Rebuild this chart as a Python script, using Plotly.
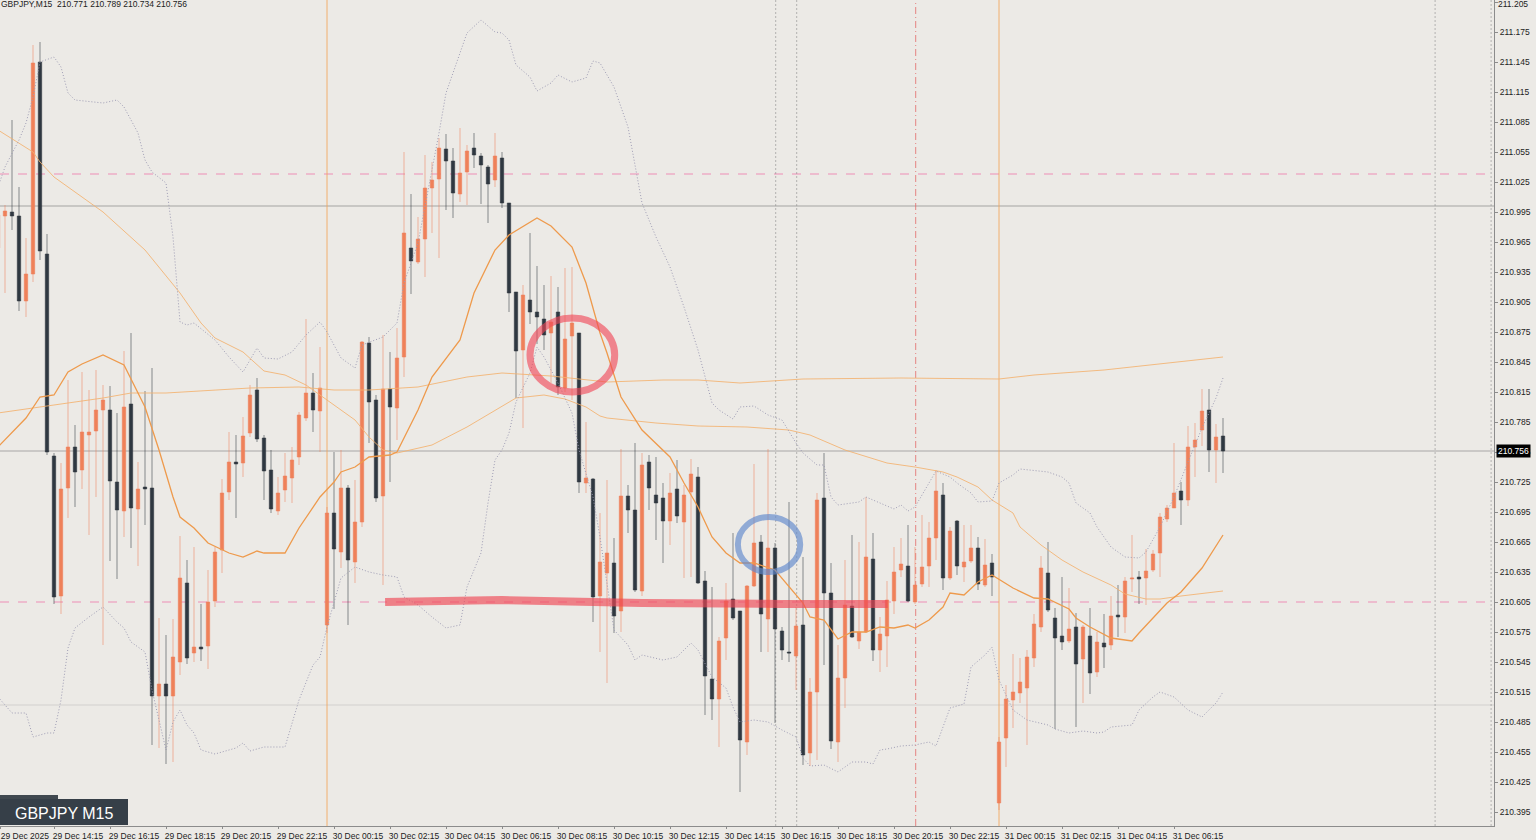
import plotly.graph_objects as go

# ---------------- data (GBPJPY M15, 29 Dec 12:15 .. 31 Dec 08:00) ----------------
bar_index = list(range(-47, 129))   # 0 = 30 Dec 00:00, 15-minute bars

opens = [210.959, 210.991, 210.995, 210.991, 210.906, 210.933, 211.145, 210.953, 210.751, 210.611,
         210.719, 210.760, 210.737, 210.772, 210.776, 210.797, 210.797, 210.725, 210.696, 210.803,
         210.698, 210.720, 210.719, 210.511, 210.523, 210.511, 210.545, 210.624, 210.554, 210.560,
         210.561, 210.606, 210.657, 210.715, 210.745, 210.744, 210.774, 210.817, 210.769, 210.737,
         210.696, 210.717, 210.729, 210.750, 210.789, 210.814, 210.796,
         210.582, 210.694, 210.655, 210.719, 210.645, 210.685, 210.864, 210.807, 210.711, 210.818,
         210.799, 210.850, 210.959, 210.945, 210.968, 211.019, 211.028, 211.058, 211.046, 211.013,
         211.035, 211.059, 211.051, 211.040, 211.027, 211.049, 211.004, 210.915, 210.857, 210.907,
         210.895, 210.888, 210.874, 210.895, 210.819, 210.871, 210.874, 210.724, 210.728, 210.611,
         210.634, 210.644, 210.596, 210.711, 210.697, 210.616, 210.745, 210.712, 210.709, 210.686,
         210.718, 210.685, 210.715, 210.730, 210.626, 210.528, 210.508, 210.569, 210.608, 210.596,
         210.465, 210.621, 210.665, 210.588, 210.659, 210.576, 210.555, 210.551, 210.582, 210.454,
         210.515, 210.709, 210.614, 210.465, 210.529, 210.601, 210.566, 210.575, 210.648, 210.557,
         210.571, 210.606, 210.637, 210.641, 210.605, 210.623, 210.641, 210.669, 210.712, 210.629,
         210.686, 210.640, 210.646, 210.659, 210.622, 210.644,
         210.404, 210.469, 210.507, 210.514, 210.519, 210.549, 210.580, 210.634, 210.589, 210.571,
         210.566, 210.580, 210.548, 210.571, 210.535, 210.564, 210.562, 210.592, 210.590, 210.628,
         210.630, 210.629, 210.637, 210.654, 210.688, 210.699, 210.716, 210.707, 210.760, 210.777,
         210.797, 210.757, 210.771]
highs = [211.000, 211.002, 211.087, 211.020, 210.969, 211.162, 211.165, 210.973, 210.754, 210.744,
         210.827, 210.782, 210.835, 210.817, 210.837, 210.822, 210.821, 210.794, 210.856, 210.874,
         210.745, 210.816, 210.839, 210.589, 210.572, 210.588, 210.671, 210.647, 210.660, 210.603,
         210.637, 210.660, 210.728, 210.775, 210.772, 210.790, 210.822, 210.829, 210.772, 210.757,
         210.730, 210.754, 210.760, 210.795, 210.888, 210.834, 210.860,
         210.700, 210.755, 210.757, 210.722, 210.727, 210.866, 210.870, 210.812, 210.872, 210.855,
         210.879, 211.055, 211.013, 210.990, 211.052, 211.045, 211.069, 211.073, 211.059, 211.079,
         211.062, 211.074, 211.054, 211.042, 211.074, 211.055, 211.004, 210.915, 210.922, 210.974,
         210.941, 210.922, 210.931, 210.920, 210.939, 210.940, 210.874, 210.785, 210.729, 210.694,
         210.727, 210.669, 210.758, 210.722, 210.764, 210.754, 210.752, 210.750, 210.724, 210.734,
         210.747, 210.722, 210.748, 210.740, 210.636, 210.620, 210.570, 210.624, 210.674, 210.596,
         210.622, 210.743, 210.672, 210.758, 210.664, 210.580, 210.705, 210.600, 210.650, 210.529,
         210.714, 210.754, 210.644, 210.562, 210.647, 210.672, 210.665, 210.710, 210.674, 210.590,
         210.626, 210.660, 210.669, 210.682, 210.660, 210.692, 210.685, 210.737, 210.724, 210.680,
         210.687, 210.682, 210.682, 210.670, 210.668, 210.653,
         210.470, 210.522, 210.553, 210.549, 210.557, 210.593, 210.651, 210.665, 210.599, 210.630,
         210.619, 210.594, 210.582, 210.599, 210.575, 210.593, 210.611, 210.622, 210.630, 210.672,
         210.636, 210.658, 210.657, 210.694, 210.702, 210.764, 210.725, 210.781, 210.784, 210.818,
         210.818, 210.783, 210.789]
lows = [210.937, 210.914, 210.977, 210.896, 210.890, 210.925, 210.947, 210.752, 210.603, 210.593,
        210.689, 210.700, 210.718, 210.672, 210.710, 210.562, 210.646, 210.628, 210.670, 210.659,
        210.641, 210.682, 210.462, 210.459, 210.443, 210.445, 210.532, 210.543, 210.545, 210.546,
        210.538, 210.600, 210.634, 210.707, 210.689, 210.730, 210.770, 210.765, 210.707, 210.694,
        210.692, 210.705, 210.704, 210.742, 210.786, 210.775, 210.755,
        210.574, 210.598, 210.639, 210.582, 210.624, 210.680, 210.764, 210.705, 210.622, 210.725,
        210.767, 210.830, 210.913, 210.943, 210.930, 210.974, 210.949, 210.997, 210.989, 211.005,
        211.002, 211.039, 211.003, 210.984, 211.020, 210.999, 210.895, 210.809, 210.779, 210.883,
        210.863, 210.857, 210.824, 210.812, 210.815, 210.807, 210.714, 210.714, 210.585, 210.555,
        210.524, 210.574, 210.575, 210.674, 210.615, 210.611, 210.697, 210.667, 210.644, 210.662,
        210.684, 210.629, 210.630, 210.623, 210.492, 210.487, 210.460, 210.547, 210.587, 210.415,
        210.452, 210.620, 210.555, 210.555, 210.484, 210.547, 210.545, 210.517, 210.442, 210.441,
        210.447, 210.542, 210.458, 210.445, 210.499, 210.569, 210.558, 210.574, 210.546, 210.535,
        210.540, 210.593, 210.630, 210.605, 210.603, 210.620, 210.620, 210.647, 210.617, 210.627,
        210.632, 210.625, 210.644, 210.617, 210.620, 210.611,
        210.397, 210.440, 210.479, 210.504, 210.462, 210.540, 210.575, 210.595, 210.478, 210.557,
        210.564, 210.480, 210.504, 210.513, 210.530, 210.539, 210.557, 210.570, 210.574, 210.615,
        210.603, 210.602, 210.635, 210.630, 210.685, 210.699, 210.682, 210.701, 210.730, 210.761,
        210.735, 210.724, 210.734]
closes = [210.992, 210.996, 210.991, 210.906, 210.933, 211.144, 210.956, 210.755, 210.610, 210.718,
          210.760, 210.735, 210.775, 210.775, 210.797, 210.807, 210.726, 210.697, 210.800, 210.699,
          210.718, 210.718, 210.511, 210.523, 210.511, 210.550, 210.629, 210.549, 210.560, 210.558,
          210.605, 210.655, 210.714, 210.745, 210.743, 210.771, 210.812, 210.768, 210.736, 210.698,
          210.714, 210.731, 210.747, 210.792, 210.814, 210.797, 210.819,
          210.694, 210.658, 210.719, 210.647, 210.685, 210.865, 210.805, 210.709, 210.818, 210.800,
          210.849, 210.974, 210.946, 210.968, 211.019, 211.027, 211.059, 211.046, 211.014, 211.034,
          211.056, 211.052, 211.042, 211.023, 211.051, 211.004, 210.914, 210.856, 210.912, 210.895,
          210.890, 210.872, 210.885, 210.820, 210.868, 210.884, 210.725, 210.729, 210.610, 210.645,
          210.654, 210.591, 210.711, 210.697, 210.617, 210.742, 210.719, 210.704, 210.686, 210.714,
          210.691, 210.712, 210.733, 210.624, 210.531, 210.508, 210.566, 210.606, 210.589, 210.467,
          210.621, 210.664, 210.593, 210.659, 210.578, 210.557, 210.554, 210.581, 210.452, 210.515,
          210.707, 210.614, 210.466, 210.529, 210.602, 210.570, 210.575, 210.650, 210.557, 210.573,
          210.607, 210.635, 210.643, 210.606, 210.622, 210.640, 210.669, 210.716, 210.629, 210.676,
          210.641, 210.645, 210.659, 210.623, 210.642, 210.630,
          210.465, 210.508, 210.515, 210.525, 210.550, 210.583, 210.639, 210.597, 210.569, 210.565,
          210.578, 210.543, 210.580, 210.534, 210.565, 210.560, 210.591, 210.590, 210.626, 210.629,
          210.628, 210.636, 210.653, 210.690, 210.699, 210.714, 210.707, 210.760, 210.767, 210.796,
          210.757, 210.770, 210.756]

# Bollinger middle line (orange)
bb_mid_bars = [-47, -43, -41, -39, -37, -35, -32, -29, -26, -24, -22, -21, -19, -17, -14, -12, -10, -9, -6, -4,
               -1, 1, 2, 4, 6, 9, 10, 13, 15, 19, 21, 24, 26, 30, 32, 35, 37, 39, 40, 42, 45, 49, 51, 53, 55,
               57, 59, 61, 64, 66, 68, 69, 71, 73, 75, 77, 79, 81, 83, 84, 86, 88, 89, 91, 93, 95, 98, 101,
               103, 106, 107, 109, 112, 115, 116, 120, 122, 125, 128]
bb_mid = [210.760, 210.789, 210.810, 210.812, 210.835, 210.843, 210.852, 210.842, 210.800, 210.757, 210.710,
          210.690, 210.679, 210.664, 210.654, 210.650, 210.656, 210.654, 210.654, 210.679, 210.710, 210.725,
          210.735, 210.740, 210.750, 210.752, 210.755, 210.797, 210.830, 210.867, 210.914, 210.957, 210.972,
          210.989, 210.981, 210.960, 210.924, 210.874, 210.854, 210.810, 210.777, 210.750, 210.724, 210.700,
          210.670, 210.654, 210.644, 210.644, 210.637, 210.620, 210.604, 210.590, 210.587, 210.568, 210.575,
          210.575, 210.580, 210.579, 210.582, 210.579, 210.587, 210.600, 210.614, 210.612, 210.625, 210.632,
          210.619, 210.609, 210.608, 210.598, 210.589, 210.580, 210.569, 210.566, 210.574, 210.604, 210.615,
          210.639, 210.672]

# Bollinger upper band (dotted)
bb_up_bars = [-47, -46, -44, -43, -42, -41, -39, -38, -37, -36, -32, -30, -29, -27, -26, -25, -23, -22, -21,
              -20, -19, -16, -14, -12, -10, -9, -7, -5, -3, -1, 0, 2, 4, 5, 8, 10, 11, 13, 16, 17, 18, 20, 22,
              24, 25, 26, 27, 29, 30, 32, 33, 35, 37, 38, 39, 41, 43, 45, 47, 49, 51, 53, 55, 56, 58, 59, 61,
              63, 65, 67, 68, 70, 71, 72, 73, 76, 77, 79, 81, 82, 83, 84, 86, 87, 89, 90, 92, 93, 95, 96, 98,
              99, 103, 105, 106, 107, 109, 110, 112, 114, 116, 117, 119, 121, 123, 125, 127, 128]
bb_up = [211.020, 211.040, 211.067, 211.084, 211.110, 211.145, 211.150, 211.140, 211.114, 211.107, 211.104,
         211.107, 211.100, 211.074, 211.047, 211.035, 211.024, 210.970, 210.885, 210.882, 210.884, 210.867,
         210.850, 210.835, 210.859, 210.849, 210.848, 210.855, 210.872, 210.885, 210.875, 210.849, 210.839,
         210.862, 210.870, 210.884, 210.924, 210.964, 211.074, 211.114, 211.134, 211.174, 211.187, 211.175,
         211.174, 211.167, 211.142, 211.130, 211.116, 211.124, 211.132, 211.125, 211.129, 211.146, 211.144,
         211.120, 211.080, 211.004, 210.970, 210.940, 210.900, 210.857, 210.804, 210.797, 210.788, 210.800,
         210.801, 210.792, 210.787, 210.764, 210.754, 210.742, 210.742, 210.710, 210.702, 210.705, 210.710,
         210.704, 210.698, 210.702, 210.696, 210.700, 210.724, 210.736, 210.730, 210.724, 210.714, 210.705,
         210.706, 210.724, 210.732, 210.738, 210.735, 210.730, 210.724, 210.704, 210.694, 210.680, 210.660,
         210.650, 210.649, 210.655, 210.680, 210.710, 210.745, 210.779, 210.809, 210.829]

# Bollinger lower band (dotted)
bb_lo_bars = [-47, -45, -43, -42, -40, -39, -38, -37, -36, -34, -32, -30, -29, -28, -26, -25, -24, -23, -22,
              -21, -20, -19, -18, -16, -13, -12, -11, -9, -6, -4, -2, -1, 0, 2, 4, 6, 8, 10, 11, 13, 15, 17,
              19, 20, 22, 23, 24, 25, 26, 27, 29, 30, 31, 33, 35, 36, 38, 39, 41, 43, 44, 45, 48, 50, 52, 53,
              55, 57, 58, 59, 61, 63, 65, 67, 68, 69, 71, 73, 75, 77, 78, 79, 80, 82, 84, 86, 87, 89, 91, 92,
              94, 95, 96, 98, 100, 103, 104, 106, 108, 110, 111, 112, 115, 116, 118, 119, 121, 123, 125, 127, 128]
bb_lo = [210.510, 210.494, 210.494, 210.470, 210.474, 210.474, 210.507, 210.559, 210.579, 210.590, 210.600,
         210.585, 210.579, 210.565, 210.555, 210.517, 210.487, 210.457, 210.485, 210.497, 210.482, 210.474,
         210.457, 210.453, 210.459, 210.464, 210.456, 210.460, 210.460, 210.507, 210.542, 210.550, 210.580,
         210.629, 210.640, 210.635, 210.632, 210.630, 210.610, 210.602, 210.590, 210.579, 210.582, 210.620,
         210.654, 210.704, 210.747, 210.757, 210.774, 210.805, 210.834, 210.860, 210.850, 210.824, 210.794,
         210.757, 210.710, 210.670, 210.577, 210.562, 210.547, 210.552, 210.547, 210.550, 210.564, 210.557,
         210.530, 210.519, 210.500, 210.485, 210.487, 210.485, 210.477, 210.470, 210.449, 210.441, 210.442,
         210.435, 210.445, 210.445, 210.443, 210.457, 210.458, 210.461, 210.462, 210.465, 210.461, 210.499,
         210.503, 210.540, 210.552, 210.560, 210.527, 210.497, 210.487, 210.482, 210.478, 210.474, 210.476,
         210.474, 210.475, 210.480, 210.482, 210.497, 210.510, 210.515, 210.510, 210.497, 210.490, 210.504,
         210.515]

# slower moving average (thin, falling from top-left)
ma_slow_bars = [-47, -42, -41, -39, -32, -26, -21, -18, -16, -12, -9, -6, -3, 0, 4, 6, 8, 10, 15, 20, 24, 27,
                31, 34, 37, 39, 40, 47, 53, 60, 66, 69, 74, 80, 84, 88, 90, 93, 95, 98, 99, 102, 105, 108, 112,
                114, 117, 119, 122, 126, 128]
ma_slow = [211.077, 211.055, 211.045, 211.030, 210.995, 210.957, 210.914, 210.884, 210.869, 210.855, 210.836,
           210.832, 210.822, 210.807, 210.787, 210.770, 210.757, 210.754, 210.762, 210.780, 210.797, 210.809,
           210.812, 210.808, 210.800, 210.791, 210.789, 210.784, 210.781, 210.780, 210.777, 210.772, 210.757,
           210.744, 210.740, 210.735, 210.730, 210.720, 210.707, 210.694, 210.680, 210.662, 210.647, 210.635,
           210.622, 210.613, 210.608, 210.608, 210.611, 210.614, 210.616]

# slowest moving average (thin, nearly flat)
ma_flat_bars = [-47, -32, -28, -23, -11, -4, 1, 6, 13, 20, 25, 32, 40, 48, 53, 59, 68, 82, 96, 101, 111, 128]
ma_flat = [210.794, 210.809, 210.814, 210.814, 210.819, 210.820, 210.817, 210.817, 210.820, 210.830, 210.834,
           210.831, 210.825, 210.827, 210.827, 210.824, 210.828, 210.829, 210.828, 210.832, 210.837, 210.850]

# horizontal levels drawn on the chart
level_pink = [211.033, 210.605]
level_gray = [211.001]
level_light = [210.502]
bid_price = 210.756

# x tick labels (15-minute bars)
tick_bars = [-46.6, -39, -31, -23, -15, -7, 1, 9, 17, 25, 33, 41, 49, 57, 65, 73, 81, 89, 97, 105, 113, 121]
tick_labels = ["29 Dec 2025", "29 Dec 14:15", "29 Dec 16:15", "29 Dec 18:15", "29 Dec 20:15",
               "29 Dec 22:15", "30 Dec 00:15", "30 Dec 02:15", "30 Dec 04:15", "30 Dec 06:15",
               "30 Dec 08:15", "30 Dec 10:15", "30 Dec 12:15", "30 Dec 14:15", "30 Dec 16:15",
               "30 Dec 18:15", "30 Dec 20:15", "30 Dec 22:15", "31 Dec 00:15", "31 Dec 02:15",
               "31 Dec 04:15", "31 Dec 06:15"]
price_ticks = [round(210.395 + 0.030 * k, 3) for k in range(28)]
price_labels = [f"{v:.3f}" for v in price_ticks]
top_price_label = price_labels[-1]
axis_labels = price_labels[:-1] + [""]   # top label drawn as an annotation so it stays inside the page

# ---------------- styling ----------------
BG = "#ECEAE6"
FONT = "Liberation Sans, Arial, sans-serif"
X_RANGE = [-46.714, 166.714]
Y_RANGE = [210.381, 211.207]
BAND_DASH = "1px,2px"

fig = go.Figure()

fig.add_trace(go.Candlestick(
    x=bar_index, open=opens, high=highs, low=lows, close=closes,
    increasing=dict(line=dict(color="rgba(238,128,92,0.55)", width=1), fillcolor="#EF8159"),
    decreasing=dict(line=dict(color="rgba(50,56,64,0.55)", width=1), fillcolor="#2F3841"),
    whiskerwidth=0, showlegend=False, hoverinfo="skip", name="GBPJPY"))

fig.add_trace(go.Scatter(x=ma_flat_bars, y=ma_flat, mode="lines",
                         line=dict(color="rgba(243,178,110,0.85)", width=1), hoverinfo="skip", showlegend=False))
fig.add_trace(go.Scatter(x=ma_slow_bars, y=ma_slow, mode="lines",
                         line=dict(color="rgba(243,178,110,0.85)", width=1), hoverinfo="skip", showlegend=False))
fig.add_trace(go.Scatter(x=bb_up_bars, y=bb_up, mode="lines",
                         line=dict(color="#9E9CB4", width=1, dash=BAND_DASH), hoverinfo="skip", showlegend=False))
fig.add_trace(go.Scatter(x=bb_lo_bars, y=bb_lo, mode="lines",
                         line=dict(color="#9E9CB4", width=1, dash=BAND_DASH), hoverinfo="skip", showlegend=False))
fig.add_trace(go.Scatter(x=bb_mid_bars, y=bb_mid, mode="lines",
                         line=dict(color="#EE9A4C", width=1.3), hoverinfo="skip", showlegend=False))

shapes = []
for lv in level_pink:
    shapes.append(dict(type="line", xref="paper", x0=0, x1=1, yref="y", y0=lv, y1=lv,
                       line=dict(color="rgba(240,120,170,0.8)", width=1, dash="dash"), layer="below"))
for lv in level_gray:
    shapes.append(dict(type="line", xref="paper", x0=0, x1=1, yref="y", y0=lv, y1=lv,
                       line=dict(color="rgba(150,150,150,0.55)", width=1.3), layer="below"))
for lv in level_light:
    shapes.append(dict(type="line", xref="paper", x0=0, x1=1, yref="y", y0=lv, y1=lv,
                       line=dict(color="rgba(180,180,180,0.45)", width=1), layer="below"))
shapes.append(dict(type="line", xref="paper", x0=0, x1=1, yref="y", y0=bid_price, y1=bid_price,
                   line=dict(color="rgba(140,140,140,0.7)", width=1.2), layer="below"))

# vertical markers
for vb in [0, 96]:
    shapes.append(dict(type="line", xref="x", x0=vb, x1=vb, yref="paper", y0=0, y1=1,
                       line=dict(color="rgba(242,165,90,0.85)", width=1), layer="below"))
for vb in [64.1, 67.1, 158.3, 166.3]:
    shapes.append(dict(type="line", xref="x", x0=vb, x1=vb, yref="paper", y0=0, y1=1,
                       line=dict(color="rgba(140,140,140,0.6)", width=1, dash="2px,2px"), layer="below"))
shapes.append(dict(type="line", xref="x", x0=84.1, x1=84.1, yref="paper", y0=0, y1=1,
                   line=dict(color="rgba(228,105,105,0.8)", width=1, dash="7px,3px,1px,3px"), layer="below"))

# hand-drawn highlights
red_circle = dict(bar0=29.0, bar1=41.1, p0=210.815, p1=210.889)
blue_circle = dict(bar0=58.7, bar1=67.6, p0=210.635, p1=210.690)
red_line = dict(bar0=8.3, bar1=80.1, price=210.604)
shapes.append(dict(type="circle", xref="x", yref="y", x0=red_circle["bar0"], x1=red_circle["bar1"],
                   y0=red_circle["p0"], y1=red_circle["p1"],
                   line=dict(color="rgba(240,70,85,0.62)", width=7), layer="above"))
shapes.append(dict(type="circle", xref="x", yref="y", x0=blue_circle["bar0"], x1=blue_circle["bar1"],
                   y0=blue_circle["p0"], y1=blue_circle["p1"],
                   line=dict(color="rgba(95,135,205,0.65)", width=6), layer="above"))
shapes.append(dict(type="path", xref="x", yref="y",
                   path=(f"M {red_line['bar0']},{red_line['price']+0.001} L 25,{red_line['price']+0.003} "
                         f"L 45,{red_line['price']} L 65,{red_line['price']-0.001} "
                         f"L {red_line['bar1']},{red_line['price']-0.001}"),
                   line=dict(color="rgba(240,70,85,0.65)", width=8), layer="above"))

# bottom-left symbol badge
PW, PH = 1494.0, 826.0
shapes.append(dict(type="rect", xref="paper", yref="paper", x0=0, x1=58 / PW, y0=27 / PH, y1=31 / PH,
                   fillcolor="#40484F", line=dict(width=0), layer="above"))
shapes.append(dict(type="rect", xref="paper", yref="paper", x0=0, x1=128 / PW, y0=1 / PH, y1=27 / PH,
                   fillcolor="#363F48", line=dict(width=0), layer="above"))

annotations = [
    dict(text="GBPJPY M15", xref="paper", yref="paper", x=64 / PW, y=13 / PH, showarrow=False,
         font=dict(family=FONT, size=16, color="#FFFFFF"), xanchor="center", yanchor="middle"),
    dict(text="GBPJPY,M15  210.771 210.789 210.734 210.756", xref="paper", yref="paper", x=0, y=1,
         showarrow=False, xanchor="left", yanchor="top", yshift=2, borderpad=0,
         font=dict(family=FONT, size=8.5, color="#222222")),
    dict(text=f"{bid_price:.3f}", xref="paper", yref="y", x=1, y=bid_price, showarrow=False,
         xanchor="left", yanchor="middle", xshift=2, bgcolor="#000000", borderpad=1,
         font=dict(family=FONT, size=8.5, color="#FFFFFF")),
    dict(text=top_price_label, xref="paper", yref="paper", x=1, y=1, showarrow=False,
         xanchor="left", yanchor="top", xshift=3, yshift=2, borderpad=0,
         font=dict(family=FONT, size=8.5, color="#222222")),
]

fig.update_layout(
    width=1536, height=840,
    paper_bgcolor=BG, plot_bgcolor=BG,
    margin=dict(l=0, r=42, t=0, b=14),
    showlegend=False,
    shapes=shapes, annotations=annotations,
    xaxis=dict(range=X_RANGE, showgrid=False, zeroline=False, showline=True, linecolor="#8C8C8C",
               ticks="outside", ticklen=2, tickcolor="#8C8C8C", tickvals=tick_bars, ticktext=tick_labels,
               ticklabelshift=24, tickfont=dict(family=FONT, size=8.5, color="#222222"),
               rangeslider=dict(visible=False), automargin=False, fixedrange=True),
    yaxis=dict(range=Y_RANGE, side="right", showgrid=False, zeroline=False, showline=True,
               linecolor="#8C8C8C", ticks="outside", ticklen=3, tickcolor="#8C8C8C",
               tickvals=price_ticks, ticktext=axis_labels,
               tickfont=dict(family=FONT, size=8.5, color="#222222"), automargin=False, fixedrange=True),
    hovermode=False,
)

fig.write_html("out.html", config={"displayModeBar": False},
               post_script="document.body.style.margin='0px';document.body.style.overflow='hidden';")
